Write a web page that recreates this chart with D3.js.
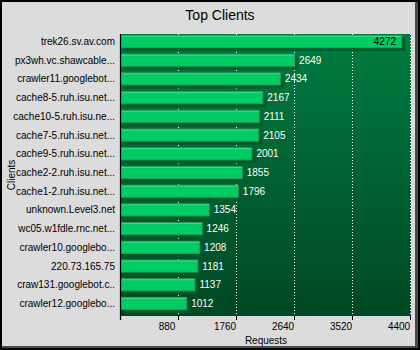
<!DOCTYPE html>
<html>
<head>
<meta charset="utf-8">
<script src="https://cdn.jsdelivr.net/npm/d3@7"></script>
<style>
  html, body { margin: 0; padding: 0; background: #fff; }
  svg { display: block; }
  text { font-family: "Liberation Sans", Arial, sans-serif; }
</style>
</head>
<body>
<svg id="chart" width="420" height="350"></svg>
<script>
const clients = [
  "trek26.sv.av.com",
  "px3wh.vc.shawcable...",
  "crawler11.googlebot...",
  "cache8-5.ruh.isu.net...",
  "cache10-5.ruh.isu.ne...",
  "cache7-5.ruh.isu.net...",
  "cache9-5.ruh.isu.net...",
  "cache2-2.ruh.isu.net...",
  "cache1-2.ruh.isu.net...",
  "unknown.Level3.net",
  "wc05.w1fdle.rnc.net...",
  "crawler10.googlebo...",
  "220.73.165.75",
  "craw131.googlebot.c..",
  "crawler12.googlebo..."
];
const requests = [4272, 2649, 2434, 2167, 2111, 2105, 2001, 1855, 1796, 1354, 1246, 1208, 1181, 1137, 1012];
const xTicks = [880, 1760, 2640, 3520, 4400];

const W = 420, H = 350;
const plot = { left: 120, right: 411, top: 34, bottom: 316 };

const svg = d3.select("#chart");
const defs = svg.append("defs");

// window frame
svg.append("rect").attr("width", W).attr("height", H).attr("fill", "#000");
svg.append("rect").attr("x", 2).attr("y", 2).attr("width", W - 4).attr("height", H - 4).attr("fill", "#4a4a4a");
svg.append("rect").attr("x", 2).attr("y", 2).attr("width", W - 7).attr("height", H - 6).attr("fill", "#dcdcdc");

const x = d3.scaleLinear().domain([0, 4400]).range([plot.left + 0.5, 410.5]);
const y = d3.scaleBand().domain(clients).range([plot.top, 311]).paddingInner(0.3).paddingOuter(0.05);

// plot background gradient
const grad = defs.append("linearGradient").attr("id", "bg").attr("x1", 0).attr("y1", 0).attr("x2", 0).attr("y2", 1);
grad.append("stop").attr("offset", "0%").attr("stop-color", "#007c40");
grad.append("stop").attr("offset", "100%").attr("stop-color", "#004824");
svg.append("rect")
  .attr("x", plot.left).attr("y", plot.top)
  .attr("width", plot.right - plot.left).attr("height", plot.bottom - plot.top)
  .attr("fill", "url(#bg)");

// dotted grid lines
svg.append("g").selectAll("line").data(xTicks).join("line")
  .attr("x1", d => Math.round(x(d)) - 0.5).attr("x2", d => Math.round(x(d)) - 0.5)
  .attr("y1", plot.top).attr("y2", plot.bottom)
  .attr("stroke", "#ffffff").attr("stroke-width", 1).attr("stroke-dasharray", "1,2");

const bh = y.bandwidth();
const bars = svg.append("g").selectAll("g").data(clients).join("g");

// bar shadow
bars.append("rect")
  .attr("x", x(0) + 3).attr("y", d => y(d) + 3)
  .attr("width", (d, i) => x(requests[i]) - x(0))
  .attr("height", bh)
  .attr("fill", "#00592c").attr("opacity", 0.85);

// bar body
bars.append("rect")
  .attr("x", x(0) + 0.5).attr("y", d => y(d) + 0.5)
  .attr("width", (d, i) => x(requests[i]) - x(0) - 1)
  .attr("height", bh - 1)
  .attr("fill", "#00cc66").attr("stroke", "#2a9a58").attr("stroke-width", 1);

// highlight on top edge
bars.append("line")
  .attr("x1", x(0) + 1).attr("x2", (d, i) => x(requests[i]) - 1)
  .attr("y1", d => y(d) + 1.5).attr("y2", d => y(d) + 1.5)
  .attr("stroke", "#33e083").attr("stroke-width", 1);

// value labels
const maxV = d3.max(requests);
bars.append("text")
  .attr("x", (d, i) => requests[i] === maxV ? x(requests[i]) - 6 : x(requests[i]) + 4)
  .attr("y", d => y(d) + bh / 2)
  .attr("dy", "0.35em")
  .attr("text-anchor", (d, i) => requests[i] === maxV ? "end" : "start")
  .attr("font-size", 10)
  .attr("fill", (d, i) => requests[i] === maxV ? "#000" : "#fff")
  .text((d, i) => requests[i]);

// category labels
svg.append("g").selectAll("text").data(clients).join("text")
  .attr("x", 115).attr("y", d => y(d) + bh / 2)
  .attr("dy", "0.35em").attr("text-anchor", "end")
  .attr("font-size", 10).attr("fill", "#000")
  .text(d => d);

// left axis line
svg.append("line")
  .attr("x1", plot.left + 0.5).attr("x2", plot.left + 0.5)
  .attr("y1", plot.top).attr("y2", plot.bottom + 4)
  .attr("stroke", "#000").attr("stroke-width", 1.2);

// bottom ticks and labels (labels sit just left of their tick)
const xAxis = d3.axisBottom(x).tickValues(xTicks).tickFormat(d3.format("d"))
  .tickSize(4).tickSizeOuter(0).tickPadding(3);
const ax = svg.append("g").attr("transform", `translate(0,${plot.bottom})`).call(xAxis);
ax.select(".domain").remove();
ax.selectAll(".tick line").attr("stroke", "#000").attr("transform", "translate(-0.5,0)");
ax.selectAll(".tick text").attr("font-size", 10).attr("fill", "#000")
  .attr("font-family", "'Liberation Sans', Arial, sans-serif")
  .attr("dx", -12);

// titles
svg.append("text").attr("x", 220).attr("y", 20).attr("text-anchor", "middle")
  .attr("font-size", 14).attr("fill", "#000").text("Top Clients");
svg.append("text").attr("x", 266).attr("y", 344).attr("text-anchor", "middle")
  .attr("font-size", 10).attr("fill", "#000").text("Requests");
svg.append("text").attr("transform", "translate(15,175) rotate(-90)").attr("text-anchor", "middle")
  .attr("font-size", 10).attr("fill", "#000").text("Clients");
</script>
</body>
</html>
